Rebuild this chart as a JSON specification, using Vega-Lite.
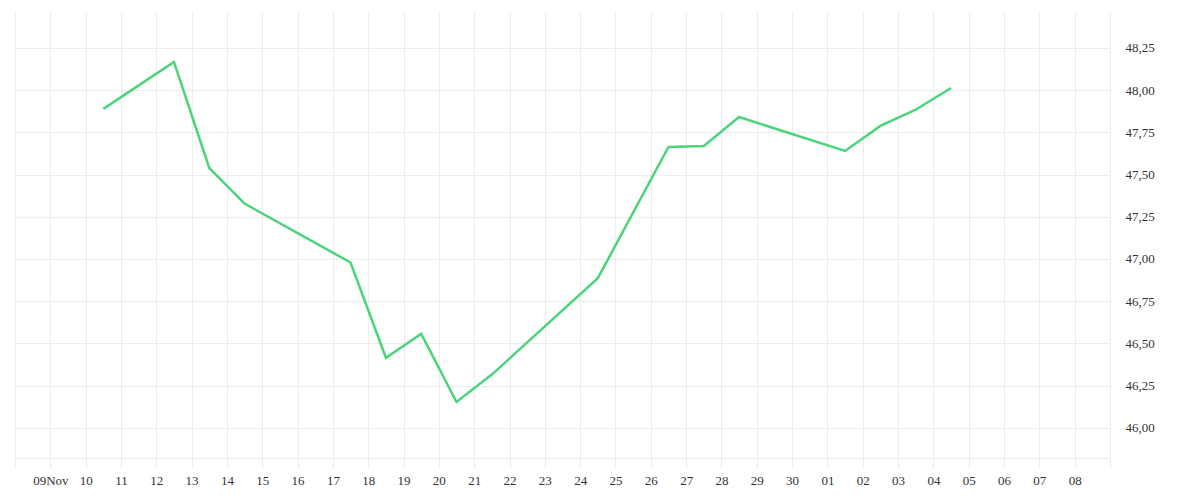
{
  "$schema": "https://vega.github.io/schema/vega-lite/v6.json",
  "autosize": {"type": "none"},
  "padding": {"left": 15, "top": 12, "right": 90, "bottom": 42},
  "width": 1095,
  "height": 446,
  "background": "#ffffff",
  "view": {"stroke": null},
  "config": {
    "font": "Liberation Serif",
    "axis": {
      "labelFont": "Liberation Serif",
      "labelFontSize": 13,
      "labelColor": "#333333",
      "gridColor": "#ececec",
      "gridWidth": 1,
      "domainColor": "#ececec",
      "tickColor": "#ececec",
      "title": null
    }
  },
  "data": {
    "values": [
      {"date": "2023-11-10T12:00:00", "value": 47.889},
      {"date": "2023-11-12T12:00:00", "value": 48.167},
      {"date": "2023-11-13T12:00:00", "value": 47.539},
      {"date": "2023-11-14T12:00:00", "value": 47.328},
      {"date": "2023-11-17T12:00:00", "value": 46.979},
      {"date": "2023-11-18T12:00:00", "value": 46.415},
      {"date": "2023-11-19T12:00:00", "value": 46.556},
      {"date": "2023-11-20T12:00:00", "value": 46.153},
      {"date": "2023-11-21T12:00:00", "value": 46.315},
      {"date": "2023-11-24T12:00:00", "value": 46.886},
      {"date": "2023-11-26T12:00:00", "value": 47.664},
      {"date": "2023-11-27T12:00:00", "value": 47.669},
      {"date": "2023-11-28T12:00:00", "value": 47.841},
      {"date": "2023-12-01T12:00:00", "value": 47.640},
      {"date": "2023-12-02T12:00:00", "value": 47.788},
      {"date": "2023-12-03T12:00:00", "value": 47.884},
      {"date": "2023-12-04T12:00:00", "value": 48.013}
    ]
  },
  "mark": {"type": "line", "color": "#4cd47b", "strokeWidth": 2.5, "interpolate": "linear"},
  "encoding": {
    "x": {
      "field": "date",
      "type": "temporal",
      "scale": {
        "domain": [
          {"year": 2023, "month": 11, "date": 8},
          {"year": 2023, "month": 12, "date": 9}
        ],
        "nice": false
      },
      "axis": {
        "tickCount": {"interval": "day", "step": 1},
        "tickSize": 10,
        "labelPadding": 6,
        "labelOverlap": false,
        "labelFlush": false,
        "labelExpr": "timeFormat(datum.value, '%m%d') == '1109' ? '09Nov' : (timeFormat(datum.value, '%m%d') == '1108' || timeFormat(datum.value, '%m%d') == '1209') ? '' : timeFormat(datum.value, '%d')"
      }
    },
    "y": {
      "field": "value",
      "type": "quantitative",
      "scale": {"domain": [45.821, 48.463], "nice": false, "zero": false},
      "axis": {
        "orient": "right",
        "values": [46, 46.25, 46.5, 46.75, 47, 47.25, 47.5, 47.75, 48, 48.25],
        "ticks": false,
        "domain": false,
        "labelPadding": 15,
        "labelBaseline": "middle",
        "labelExpr": "replace(format(datum.value, '.2f'), '.', ',')"
      }
    }
  }
}
